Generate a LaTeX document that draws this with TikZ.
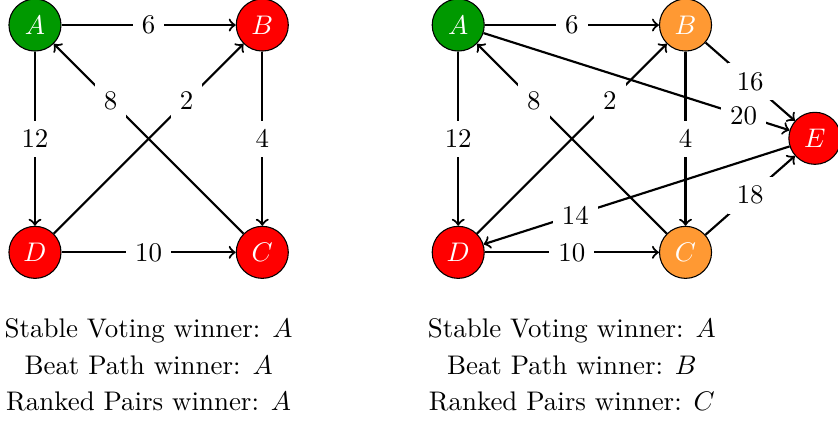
\documentclass[tikz,border=0pt]{standalone}
\usepackage{amsmath}
\usepackage{xcolor}
\usepackage{tikz}
\definecolor{wingreen}{RGB}{0,153,0}
\definecolor{tieorange}{RGB}{255,153,51}

\begin{document}
\begin{tikzpicture}[
    cand/.style={circle, draw, minimum size=0.68cm, inner sep=0pt, text=white},
    beats/.style={->, thick},
    wt/.style={fill=white}
  ]
  \useasboundingbox (-0.457,0.327) rectangle (10.492,-5.173);

  % first profile
  \node[cand, fill=wingreen] (A1) at (0,0) {$A$};
  \node[cand, fill=red] (B1) at (2.97,0) {$B$};
  \node[cand, fill=red] (C1) at (2.97,-2.97) {$C$};
  \node[cand, fill=red] (D1) at (0,-2.97) {$D$};
  \draw[beats] (A1) -- node[wt]{6} (B1);
  \draw[beats] (A1) -- node[wt]{12} (D1);
  \draw[beats] (B1) -- node[wt]{4} (C1);
  \draw[beats] (D1) -- node[wt]{10} (C1);
  \draw[beats] (C1) -- node[wt, pos=0.7]{8} (A1);
  \draw[beats] (D1) -- node[wt, pos=0.7]{2} (B1);
  \node[align=center] (res1) at (1.485,-4.44) {Stable Voting winner: $A$\\[1.5pt] Beat Path winner: $A$\\[1.5pt] Ranked Pairs winner: $A$};

  % second profile, with E added
  \node[cand, fill=wingreen] (A2) at (5.53,0) {$A$};
  \node[cand, fill=tieorange] (B2) at (8.50,0) {$B$};
  \node[cand, fill=tieorange] (C2) at (8.50,-2.97) {$C$};
  \node[cand, fill=red] (D2) at (5.53,-2.97) {$D$};
  \node[cand, fill=red] (E2) at (10.19,-1.48) {$E$};
  \draw[beats] (A2) -- node[wt]{6} (B2);
  \draw[beats] (A2) -- node[wt]{12} (D2);
  \draw[beats] (B2) -- node[wt]{4} (C2);
  \draw[beats] (D2) -- node[wt]{10} (C2);
  \draw[beats] (C2) -- node[wt, pos=0.7]{8} (A2);
  \draw[beats] (D2) -- node[wt, pos=0.7]{2} (B2);
  \draw[beats] (B2) -- node[wt]{16} (E2);
  \draw[beats] (A2) -- node[wt, pos=0.85]{20} (E2);
  \draw[beats] (E2) -- node[wt, pos=0.7]{14} (D2);
  \draw[beats] (C2) -- node[wt]{18} (E2);
  \node[align=center] (res2) at (7.015,-4.44) {Stable Voting winner: $A$\\[1.5pt] Beat Path winner: $B$\\[1.5pt] Ranked Pairs winner: $C$};
\end{tikzpicture}
\end{document}
